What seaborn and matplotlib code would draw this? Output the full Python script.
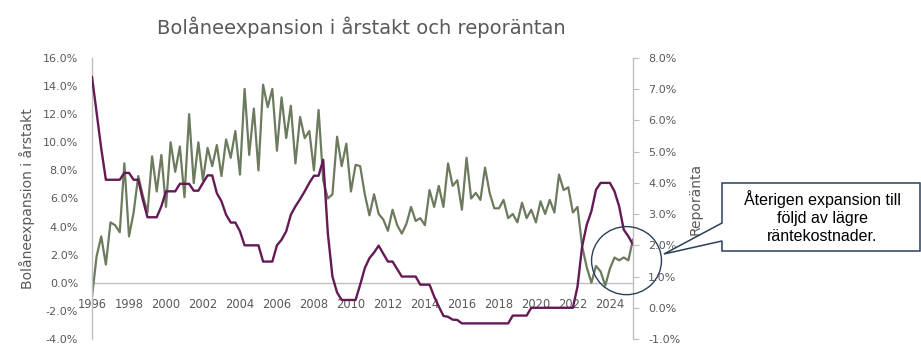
import numpy as np
import pandas as pd
import seaborn as sns
import matplotlib
matplotlib.use("Agg")
import matplotlib.pyplot as plt
from matplotlib.patches import Ellipse, Polygon
from matplotlib.ticker import FuncFormatter, MultipleLocator

# Quarterly data 1996Q1 - 2025Q2
start_year = 1996
bolan = [-1.0, 1.9, 3.3, 1.3, 4.3, 4.1, 3.6, 8.5, 3.3, 5.0,
         7.6, 6.2, 5.0, 9.0, 6.5, 9.1, 5.4, 10.0, 7.9, 9.7,
         6.1, 12.0, 7.1, 10.0, 7.3, 9.6, 8.3, 9.8, 7.6, 10.2,
         8.9, 10.8, 7.7, 13.8, 9.1, 12.4, 8.0, 14.1, 12.5, 13.8,
         9.4, 13.2, 10.3, 12.6, 8.5, 11.8, 10.3, 10.8, 8.0, 12.3,
         7.3, 6.0, 6.3, 10.4, 8.3, 9.9, 6.5, 8.4, 8.3, 6.3,
         4.8, 6.3, 4.9, 4.5, 3.7, 5.2, 4.1, 3.5, 4.2, 5.4,
         4.4, 4.6, 4.1, 6.6, 5.4, 6.9, 5.4, 8.5, 6.9, 7.3,
         5.2, 8.9, 6.0, 6.4, 5.9, 8.2, 6.4, 5.3, 5.3, 5.9,
         4.6, 4.9, 4.3, 5.7, 4.6, 5.2, 4.3, 5.8, 4.9, 5.9,
         5.0, 7.7, 6.6, 6.8, 5.0, 5.4, 2.6, 1.1, 0.0, 1.2,
         0.8, -0.2, 1.0, 1.8, 1.6, 1.8, 1.6, 3.1]
repo = [7.4, 6.25, 5.1, 4.1, 4.1, 4.1, 4.1, 4.32, 4.32, 4.1,
        4.1, 3.46, 2.9, 2.9, 2.9, 3.25, 3.73, 3.73, 3.73, 3.97,
        3.97, 3.97, 3.75, 3.75, 4.0, 4.24, 4.24, 3.67, 3.41, 2.98,
        2.73, 2.73, 2.45, 2.0, 2.0, 2.0, 2.0, 1.48, 1.48, 1.48,
        2.0, 2.18, 2.45, 2.98, 3.25, 3.48, 3.73, 4.0, 4.23, 4.23,
        4.74, 2.39, 1.0, 0.49, 0.25, 0.25, 0.25, 0.25, 0.74, 1.27,
        1.59, 1.77, 1.99, 1.73, 1.48, 1.48, 1.24, 1.0, 1.0, 1.0,
        1.0, 0.74, 0.74, 0.74, 0.36, 0.04, -0.26, -0.29, -0.38, -0.39,
        -0.5, -0.5, -0.5, -0.5, -0.5, -0.5, -0.5, -0.5, -0.5, -0.5,
        -0.5, -0.25, -0.25, -0.25, -0.25, 0.0, 0.0, 0.0, 0.0, 0.0,
        0.0, 0.0, 0.0, 0.0, 0.0, 0.68, 1.97, 2.66, 3.09, 3.78,
        4.0, 4.0, 4.0, 3.73, 3.25, 2.5, 2.29, 2.02]
year_ticks = list(range(1996, 2025, 2))

title = "Bolåneexpansion i årstakt och reporäntan"
left_label = "Bolåneexpansion i årstakt"
right_label = "Reporänta"
note = "Återigen expansion till\nföljd av lägre\nräntekostnader."

df = pd.DataFrame({"tid": start_year + np.arange(len(bolan)) / 4,
                   "bolan": bolan, "repo": repo})

sns.set_style("white")
plt.rcParams["font.family"] = ["DejaVu Sans"]
grey = "#595959"
green = "#6C7A5E"
purple = "#641A55"

W, H = 921, 357
fig = plt.figure(figsize=(W / 100, H / 100), dpi=100)
ax = fig.add_axes([92 / W, 1 - 339 / H, 541 / W, 281 / H])
ax2 = ax.twinx()

sns.lineplot(data=df, x="tid", y="bolan", ax=ax, color=green, linewidth=1.6)
sns.lineplot(data=df, x="tid", y="repo", ax=ax2, color=purple, linewidth=1.7)

ax.set_xlim(1996, 2025.25)
ax.set_ylim(-4, 16)
ax2.set_ylim(-1, 8)

pct = FuncFormatter(lambda v, p: f"{v:.1f}%")
ax.yaxis.set_major_locator(MultipleLocator(2))
ax.yaxis.set_major_formatter(pct)
ax2.yaxis.set_major_locator(MultipleLocator(1))
ax2.yaxis.set_major_formatter(pct)
ax.set_xticks(year_ticks)
ax.set_xticklabels([str(y) for y in year_ticks])

# axis look, x axis sits at 0 like in excel
for a in (ax, ax2):
    for s in a.spines.values():
        s.set_color("#BFBFBF")
        s.set_linewidth(1.0)
    a.spines["top"].set_visible(False)
ax.spines["right"].set_visible(False)
ax2.spines["left"].set_visible(False)
ax2.spines["bottom"].set_visible(False)
ax.spines["bottom"].set_position(("data", 0))
ax.spines["bottom"].set_zorder(0)

ax.tick_params(axis="x", length=0, pad=11, labelsize=8.3, labelcolor=grey)
ax.tick_params(axis="y", length=0, pad=10, labelsize=8, labelcolor=grey)
ax2.tick_params(axis="y", length=4, width=0.8, color="#BFBFBF", pad=7,
                labelsize=8, labelcolor=grey)

ax.set_xlabel("")
ax.set_ylabel(left_label, fontsize=10, color=grey)
ax.yaxis.set_label_coords(-0.105, 0.5)
ax2.set_ylabel(right_label, fontsize=10, color=grey)
ax2.yaxis.set_label_coords(1.102, 0.5)

fig.text(361 / W, 1 - 27 / H, title, ha="center", va="center",
         fontsize=14, color=grey)

# circle around the last observations
ax2.add_patch(Ellipse((2024.9, 1.51), 3.78, 2.18, fill=False,
                      edgecolor="#2B3F5C", linewidth=1.0, clip_on=False, zorder=5))

# callout box with pointer
pts = [(722, 183), (920, 183), (920, 251), (722, 251), (722, 241),
       (664, 254), (722, 223)]
fig.patches.append(Polygon([(x / W, 1 - y / H) for x, y in pts], closed=True,
                           transform=fig.transFigure, facecolor="white",
                           edgecolor="#2B3F5C", linewidth=1.1, zorder=10))
fig.text(822 / W, 1 - 217 / H, note, ha="center", va="center", fontsize=11.5,
         family=["Liberation Sans"], color="black", linespacing=1.25, zorder=11)

fig.savefig("out.png", dpi=100)
